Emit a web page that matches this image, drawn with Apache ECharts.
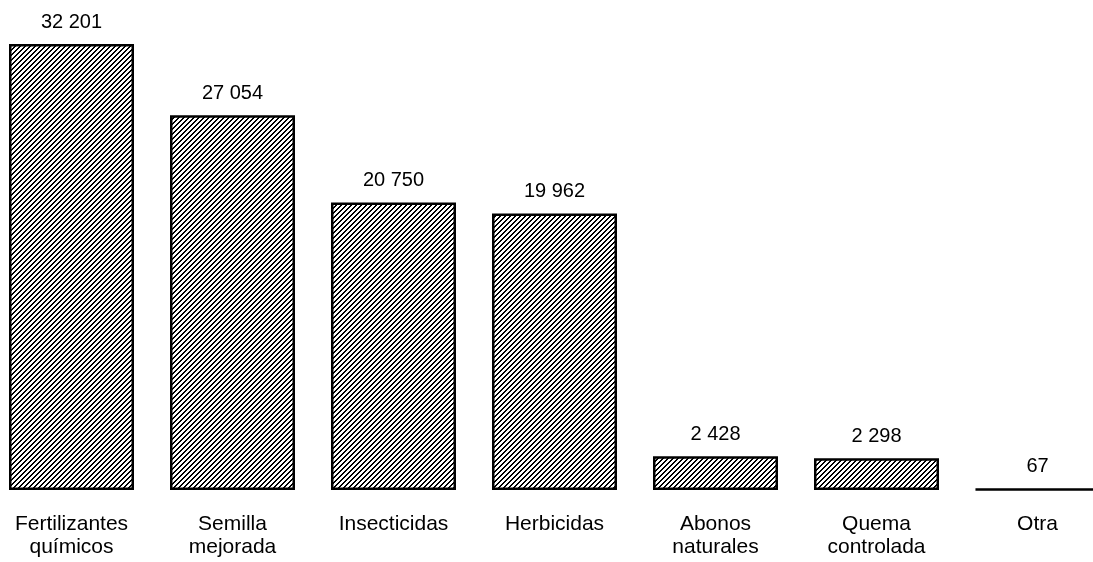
<!DOCTYPE html>
<html>
<head>
<meta charset="utf-8">
<script src="https://cdn.jsdelivr.net/npm/echarts@6/dist/echarts.min.js"></script>
<style>
  html, body { margin: 0; padding: 0; background: #fff; overflow: hidden; width: 1093px; height: 562px; }
  #chart { width: 1127px; height: 562px; margin-left: -9px; }
</style>
</head>
<body>
<div id="chart"></div>
<script>
// Productores por tipo de insumo o práctica agrícola
const categories = [
  'Fertilizantes\nquímicos',
  'Semilla\nmejorada',
  'Insecticidas',
  'Herbicidas',
  'Abonos\nnaturales',
  'Quema\ncontrolada',
  'Otra'
];
const values = [32201, 27054, 20750, 19962, 2428, 2298, 67];

// Diagonal hatch tile used as the bar fill
function hatchTile() {
  const size = 5;
  const c = document.createElement('canvas');
  c.width = size; c.height = size;
  const ctx = c.getContext('2d');
  ctx.fillStyle = '#ffffff';
  ctx.fillRect(0, 0, size, size);
  ctx.fillStyle = '#000000';
  for (let y = 0; y < size; y++) {
    const x = size - 1 - y;
    ctx.fillRect(x, y, 2, 1);
    if (x + 2 > size) ctx.fillRect(0, y, x + 2 - size, 1);
  }
  return c;
}

// Thousands separated by a space
function fmt(v) {
  return String(v).replace(/\B(?=(\d{3})+(?!\d))/g, ' ');
}

const chart = echarts.init(document.getElementById('chart'), null, { renderer: 'canvas' });
chart.setOption({
  animation: false,
  backgroundColor: '#ffffff',
  grid: { left: 0, right: 0, top: 44, bottom: 72, containLabel: false },
  xAxis: {
    type: 'category',
    data: categories,
    axisLine: { show: false },
    axisTick: { show: false },
    axisLabel: {
      interval: 0,
      margin: 23,
      color: '#000',
      fontFamily: 'Liberation Sans, Arial, sans-serif',
      fontSize: 21,
      lineHeight: 23
    }
  },
  yAxis: {
    type: 'value',
    min: 0,
    max: 32201,
    show: false,
    splitLine: { show: false }
  },
  series: [{
    type: 'bar',
    data: values,
    barWidth: 125,
    itemStyle: {
      color: { image: hatchTile(), repeat: 'repeat' },
      borderColor: '#000',
      borderWidth: 2.5
    },
    label: {
      show: true,
      position: 'top',
      distance: 12,
      color: '#000',
      fontFamily: 'Liberation Sans, Arial, sans-serif',
      fontSize: 20,
      formatter: p => fmt(p.value)
    }
  }]
});
</script>
</body>
</html>
